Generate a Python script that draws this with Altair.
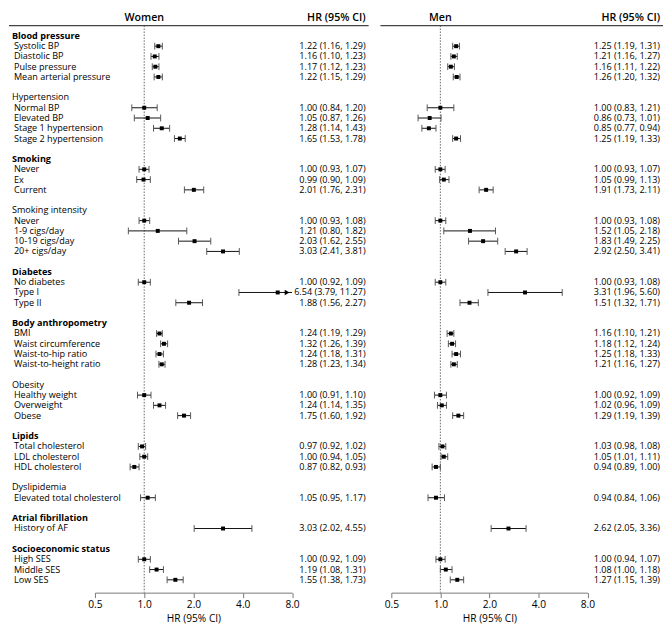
import altair as alt
import pandas as pd

row_labels = [
    "Blood pressure", " Systolic BP", " Diastolic BP", " Pulse pressure", " Mean arterial pressure", "",
    "Hypertension", " Normal BP", " Elevated BP", " Stage 1 hypertension", " Stage 2 hypertension", "",
    "Smoking", " Never", " Ex", " Current", "",
    "Smoking intensity", " Never", " 1-9 cigs/day", " 10-19 cigs/day", " 20+ cigs/day", "",
    "Diabetes", " No diabetes", " Type I", " Type II", "",
    "Body anthropometry", " BMI", " Waist circumference", " Waist-to-hip ratio", " Waist-to-height ratio", "",
    "Obesity", " Healthy weight", " Overweight", " Obese", "",
    "Lipids", " Total cholesterol", " LDL cholesterol", " HDL cholesterol", "",
    "Dyslipidemia", " Elevated total cholesterol", "",
    "Atrial fibrillation", " History of AF", "",
    "Socioeconomic status", " High SES", " Middle SES", " Low SES",
]
row_kinds = [
    "bold", "item", "item", "item", "item", "blank",
    "plain", "item", "item", "item", "item", "blank",
    "bold", "item", "item", "item", "blank",
    "plain", "item", "item", "item", "item", "blank",
    "bold", "item", "item", "item", "blank",
    "bold", "item", "item", "item", "item", "blank",
    "plain", "item", "item", "item", "blank",
    "bold", "item", "item", "item", "blank",
    "plain", "item", "blank",
    "bold", "item", "blank",
    "bold", "item", "item", "item",
]

women_hr = [1.22, 1.16, 1.17, 1.22, 1.00, 1.05, 1.28, 1.65, 1.00, 0.99, 2.01, 1.00, 1.21, 2.03, 3.03,
            1.00, 6.54, 1.88, 1.24, 1.32, 1.24, 1.28, 1.00, 1.24, 1.75, 0.97, 1.00, 0.87, 1.05, 3.03,
            1.00, 1.19, 1.55]
women_lo = [1.16, 1.10, 1.12, 1.15, 0.84, 0.87, 1.14, 1.53, 0.93, 0.90, 1.76, 0.93, 0.80, 1.62, 2.41,
            0.92, 3.79, 1.56, 1.19, 1.26, 1.18, 1.23, 0.91, 1.14, 1.60, 0.92, 0.94, 0.82, 0.95, 2.02,
            0.92, 1.08, 1.38]
women_hi = [1.29, 1.23, 1.23, 1.29, 1.20, 1.26, 1.43, 1.78, 1.07, 1.09, 2.31, 1.08, 1.82, 2.55, 3.81,
            1.09, 11.27, 2.27, 1.29, 1.39, 1.31, 1.34, 1.10, 1.35, 1.92, 1.02, 1.05, 0.93, 1.17, 4.55,
            1.09, 1.31, 1.73]

men_hr = [1.25, 1.21, 1.16, 1.26, 1.00, 0.86, 0.85, 1.25, 1.00, 1.05, 1.91, 1.00, 1.52, 1.83, 2.92,
          1.00, 3.31, 1.51, 1.16, 1.18, 1.25, 1.21, 1.00, 1.02, 1.29, 1.03, 1.05, 0.94, 0.94, 2.62,
          1.00, 1.08, 1.27]
men_lo = [1.19, 1.16, 1.11, 1.20, 0.83, 0.73, 0.77, 1.19, 0.93, 0.99, 1.73, 0.93, 1.05, 1.49, 2.50,
          0.93, 1.96, 1.32, 1.10, 1.12, 1.18, 1.16, 0.92, 0.96, 1.19, 0.98, 1.01, 0.89, 0.84, 2.05,
          0.94, 1.00, 1.15]
men_hi = [1.31, 1.27, 1.22, 1.32, 1.21, 1.01, 0.94, 1.33, 1.07, 1.13, 2.11, 1.08, 2.18, 2.25, 3.41,
          1.08, 5.60, 1.71, 1.21, 1.24, 1.33, 1.27, 1.09, 1.09, 1.39, 1.08, 1.11, 1.00, 1.06, 3.36,
          1.07, 1.18, 1.39]

x_ticks = [0.5, 1.0, 2.0, 4.0, 8.0]

FONT = "Open Sans"
H = 587
Y0, Y1 = -2.26, 54.25
HEAD_LINE = -1.01
HEAD_TEXT = -1.75
TXT = 9.2

item_rows = [i for i, k in enumerate(row_kinds) if k == "item"]


def make_df(hr, lo, hi):
    df = pd.DataFrame({"row": item_rows, "hr": hr, "lo": lo, "hi": hi})
    df["hi_plot"] = df["hi"].clip(upper=x_ticks[-1])
    df["clipped"] = df["hi"] > x_ticks[-1]
    df["y_top"] = df["row"] - 0.33
    df["y_bot"] = df["row"] + 0.33
    df["txt"] = [f"{a:.2f} ({b:.2f}, {c:.2f})" for a, b, c in zip(hr, lo, hi)]
    return df


labels_df = pd.DataFrame({"row": list(range(len(row_labels))), "label": row_labels, "kind": row_kinds})

yscale = alt.Scale(domain=[Y0, Y1], reverse=True, nice=False, zero=False)


def panel(df, title, width, xrange, text_right, with_labels):
    xs = alt.Scale(type="log", domain=[0.5, 8], range=xrange, nice=False)
    axis = alt.Axis(values=x_ticks, format=".1f", grid=False, labelFont=FONT, titleFont=FONT,
                    labelFontSize=10.3, titleFontSize=10.3, titleFontWeight="normal",
                    labelColor="black", titleColor="black", domainColor="#777", tickColor="#777",
                    tickSize=5, labelPadding=2, titlePadding=4, labelFlush=False)

    def X(field):
        return alt.X(field, type="quantitative", scale=xs, axis=axis, title="HR (95% CI)")

    def Yq(field):
        return alt.Y(field, type="quantitative", scale=yscale, axis=None)

    frame_df = pd.DataFrame({"one": [1.0], "hl": [HEAD_LINE], "bot": [Y1], "ht": [HEAD_TEXT],
                             "title": [title], "hrtitle": ["HR (95% CI)"]})
    fr = alt.Chart(frame_df)
    base = alt.Chart(df)
    layers = []
    layers.append(
        fr.mark_rule(color="#666", strokeDash=[1.5, 1.5], strokeWidth=1).encode(
            x=X("one"), y=Yq("hl"), y2="bot:Q"
        )
    )
    layers.append(
        fr.mark_rule(color="#444", strokeWidth=1.2).encode(
            x=alt.value(0), x2=alt.value(width), y=Yq("hl")
        )
    )
    layers.append(
        fr.mark_text(font=FONT, fontSize=10.8, fontWeight=600, color="black").encode(
            x=X("one"), y=Yq("ht"), text="title:N"
        )
    )
    layers.append(
        fr.mark_text(font=FONT, fontSize=10.8, fontWeight=600, color="black", align="right").encode(
            x=alt.value(text_right), y=Yq("ht"), text="hrtitle:N"
        )
    )
    layers.append(
        base.mark_rule(color="#111", strokeWidth=1).encode(x=X("lo"), x2="hi_plot:Q", y=Yq("row"))
    )
    layers.append(
        base.mark_rule(color="#555", strokeWidth=1).encode(x=X("lo"), y=Yq("y_top"), y2="y_bot:Q")
    )
    layers.append(
        base.mark_rule(color="#555", strokeWidth=1).encode(x=X("hi_plot"), y=Yq("y_top"), y2="y_bot:Q")
        .transform_filter("!datum.clipped")
    )
    layers.append(
        base.mark_square(size=16, color="black", opacity=1).encode(x=X("hr"), y=Yq("row"))
    )
    layers.append(
        base.mark_point(shape="triangle-right", filled=True, size=32, color="black", opacity=1,
                        xOffset=-5).encode(x=X("hi_plot"), y=Yq("row"))
        .transform_filter("datum.clipped")
    )
    layers.append(
        base.mark_text(font=FONT, fontSize=TXT, color="black", align="right").encode(
            x=alt.value(text_right), y=Yq("row"), text="txt:N"
        )
    )
    if with_labels:
        lb = alt.Chart(labels_df)
        layers.append(
            lb.mark_text(font=FONT, fontSize=TXT, fontWeight="bold", color="black", align="left")
            .encode(x=alt.value(3), y=Yq("row"), text="label:N")
            .transform_filter("datum.kind == 'bold'")
        )
        layers.append(
            lb.mark_text(font=FONT, fontSize=TXT, color="black", align="left")
            .encode(x=alt.value(3), y=Yq("row"), text="label:N")
            .transform_filter("datum.kind == 'plain'")
        )
        layers.append(
            lb.mark_text(font=FONT, fontSize=TXT, color="black", align="left")
            .encode(x=alt.value(5), y=Yq("row"), text="label:N")
            .transform_filter("datum.kind == 'item'")
        )
    return alt.layer(*layers).properties(width=width, height=H)


women = panel(make_df(women_hr, women_lo, women_hi), "Women", 364, [87, 286.5], 361, True)
men = panel(make_df(men_hr, men_lo, men_hi), "Men", 286, [11, 209.5], 283, False)

chart = alt.hconcat(women, men, spacing=10).properties(padding=0).configure_view(stroke=None)

chart.save("out.html", embed_options={"renderer": "svg", "actions": False})
